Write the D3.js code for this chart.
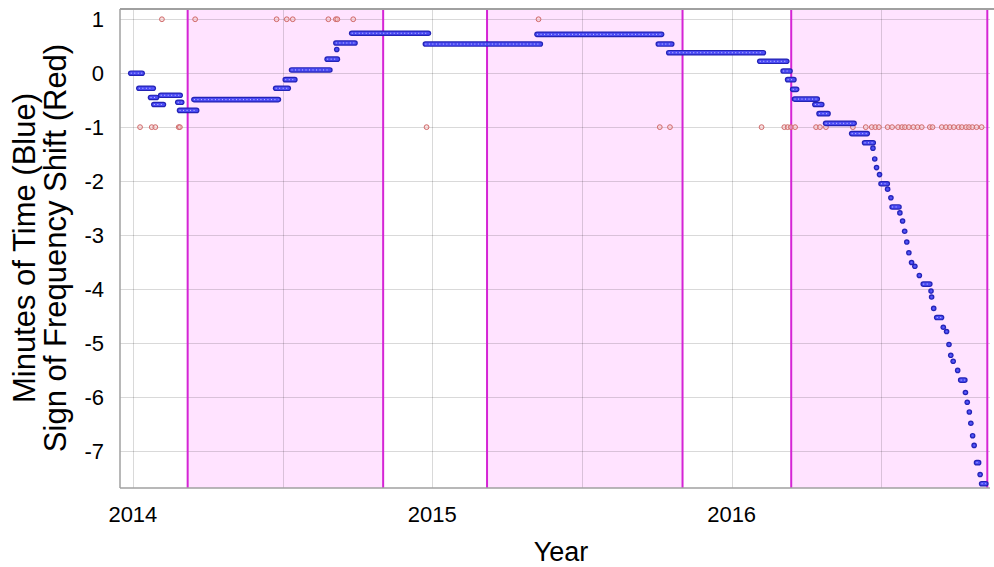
<!DOCTYPE html>
<html>
<head>
<meta charset="utf-8">
<title>Clock drift</title>
<script src="https://cdn.jsdelivr.net/npm/d3@7"></script>
<style>
  body { margin: 0; background: #fff; }
  text { font-family: "Liberation Sans", Arial, sans-serif; fill: #000; }
</style>
</head>
<body>
<svg width="994" height="567"></svg>
<script>
// shaded periods (year fractions)
const shadeStart = [2014.183, 2015.183, 2016.199]
const shadeEnd = [2014.836, 2015.836, 2016.854]

// blue series: runs of constant value [from, to, minutes]
const blueFrom = [2013.993, 2014.020, 2014.059, 2014.070, 2014.093, 2014.150, 2014.156, 2014.204, 2014.477, 2014.509,
  2014.530, 2014.649, 2014.681, 2014.678, 2014.731, 2014.977, 2015.350, 2015.755, 2015.790, 2016.094,
  2016.172, 2016.187, 2016.204, 2016.210, 2016.278, 2016.292, 2016.314, 2016.401, 2016.444, 2016.472,
  2016.478, 2016.484, 2016.494, 2016.499, 2016.521, 2016.532, 2016.536, 2016.562, 2016.571, 2016.578,
  2016.585, 2016.592, 2016.601, 2016.612, 2016.627, 2016.640, 2016.666, 2016.668, 2016.675, 2016.685,
  2016.707, 2016.718, 2016.726, 2016.732, 2016.740, 2016.755, 2016.765, 2016.781, 2016.787, 2016.794,
  2016.799, 2016.805, 2016.810, 2016.818, 2016.830, 2016.835]
const blueTo = [2014.031, 2014.068, 2014.079, 2014.102, 2014.158, 2014.163, 2014.213, 2014.486, 2014.519, 2014.541,
  2014.658, 2014.683, 2014.681, 2014.742, 2014.987, 2015.361, 2015.766, 2015.800, 2016.106, 2016.184,
  2016.195, 2016.208, 2016.217, 2016.286, 2016.301, 2016.322, 2016.409, 2016.453, 2016.473, 2016.472,
  2016.478, 2016.484, 2016.494, 2016.520, 2016.521, 2016.532, 2016.559, 2016.562, 2016.571, 2016.578,
  2016.585, 2016.592, 2016.601, 2016.612, 2016.627, 2016.662, 2016.666, 2016.668, 2016.675, 2016.701,
  2016.707, 2016.718, 2016.726, 2016.732, 2016.740, 2016.755, 2016.779, 2016.781, 2016.787, 2016.794,
  2016.799, 2016.805, 2016.810, 2016.825, 2016.830, 2016.849]
const blueValue = [0, -0.28, -0.45, -0.58, -0.41, -0.54, -0.69, -0.49, -0.28, -0.12,
  0.06, 0.26, 0.44, 0.56, 0.74, 0.54, 0.72, 0.54, 0.38, 0.22,
  0.04, -0.12, -0.30, -0.48, -0.58, -0.75, -0.93, -1.12, -1.29, -1.39,
  -1.59, -1.75, -1.88, -2.05, -2.15, -2.31, -2.48, -2.59, -2.74, -2.93,
  -3.13, -3.33, -3.51, -3.58, -3.75, -3.91, -4.04, -4.15, -4.36, -4.53,
  -4.71, -4.79, -5.03, -5.23, -5.34, -5.51, -5.69, -5.92, -6.10, -6.28,
  -6.49, -6.72, -6.90, -7.22, -7.44, -7.61]

// red series: sign of frequency shift
const redUp = [2014.097, 2014.208, 2014.480, 2014.514, 2014.534, 2014.653, 2014.678, 2014.683, 2014.736, 2015.355]
const redDown = [2014.024, 2014.063, 2014.075, 2014.153, 2014.157, 2014.981, 2015.760, 2015.794, 2016.100,
  2016.176, 2016.187, 2016.198, 2016.212, 2016.282, 2016.295, 2016.315, 2016.405, 2016.448, 2016.468,
  2016.480, 2016.492, 2016.521, 2016.536, 2016.556, 2016.569, 2016.579, 2016.592, 2016.607, 2016.621,
  2016.635, 2016.662, 2016.671, 2016.702, 2016.716, 2016.729, 2016.742, 2016.758, 2016.769, 2016.783,
  2016.793, 2016.804, 2016.818, 2016.835]

const xTicks = [2014, 2015, 2016]
const xGrid = [2014, 2014.5, 2015, 2015.5, 2016, 2016.5]
const yTicks = [1, 0, -1, -2, -3, -4, -5, -6, -7]

const svg = d3.select('svg')
const plotL = 120, plotR = 990, plotT = 9, plotB = 488

const x = d3.scaleLinear().domain([2013.957, 2016.863]).range([plotL, plotR])
const y = d3.scaleLinear().domain([-7.69, 1.19]).range([plotB, plotT])

// shaded bands
const bands = shadeStart.map((s, i) => ({ s, e: shadeEnd[i] }))
svg.append('g').selectAll('rect').data(bands).join('rect')
  .attr('x', d => x(d.s)).attr('width', d => x(d.e) - x(d.s))
  .attr('y', plotT).attr('height', plotB - plotT)
  .attr('fill', '#ffe3ff')

// grid
const grid = svg.append('g').attr('stroke', '#000').attr('stroke-opacity', 0.15).attr('stroke-width', 1)
grid.selectAll('.gx').data(xGrid).join('line')
  .attr('x1', d => Math.round(x(d)) + 0.5).attr('x2', d => Math.round(x(d)) + 0.5)
  .attr('y1', plotT).attr('y2', plotB)
grid.selectAll('.gy').data(yTicks).join('line')
  .attr('y1', d => Math.round(y(d)) + 0.5).attr('y2', d => Math.round(y(d)) + 0.5)
  .attr('x1', plotL).attr('x2', plotR)

// band edges
const edges = svg.append('g').attr('stroke', '#d524d5').attr('stroke-width', 2)
edges.selectAll('line').data(shadeStart.concat(shadeEnd)).join('line')
  .attr('x1', d => x(d)).attr('x2', d => x(d))
  .attr('y1', plotT).attr('y2', plotB)

// frame
const frame = svg.append('g').attr('stroke', '#a0a0a0').attr('fill', 'none')
frame.append('line').attr('x1', plotL).attr('x2', 994).attr('y1', plotT).attr('y2', plotT).attr('stroke-width', 2)
frame.append('line').attr('x1', plotL).attr('x2', plotL).attr('y1', plotT).attr('y2', plotB).attr('stroke-width', 1.5)
frame.append('line').attr('x1', plotL).attr('x2', plotR).attr('y1', plotB).attr('y2', plotB).attr('stroke-width', 1.5)

// red markers
const redData = redUp.map(t => ({ t, v: 1 })).concat(redDown.map(t => ({ t, v: -1 })))
svg.append('g').selectAll('circle').data(redData).join('circle')
  .attr('cx', d => x(d.t)).attr('cy', d => y(d.v)).attr('r', 2.4)
  .attr('fill', '#f6c8c8').attr('fill-opacity', 0.5)
  .attr('stroke', '#d06a6a').attr('stroke-width', 1)

// blue runs
const runs = blueFrom.map((f, i) => ({ f, t: blueTo[i], v: blueValue[i] }))
const blue = svg.append('g').attr('stroke-linecap', 'round')
blue.selectAll('.outer').data(runs).join('line').attr('class', 'outer')
  .attr('x1', d => x(d.f)).attr('x2', d => x(d.t))
  .attr('y1', d => y(d.v)).attr('y2', d => y(d.v))
  .attr('stroke', '#2323b4').attr('stroke-width', 5.6)
blue.selectAll('.inner').data(runs).join('line').attr('class', 'inner')
  .attr('x1', d => x(d.f)).attr('x2', d => x(d.t))
  .attr('y1', d => y(d.v)).attr('y2', d => y(d.v))
  .attr('stroke', '#4a4af4').attr('stroke-width', 3.2)
blue.selectAll('.core').data(runs).join('line').attr('class', 'core')
  .attr('x1', d => x(d.f)).attr('x2', d => x(d.t))
  .attr('y1', d => y(d.v)).attr('y2', d => y(d.v))
  .attr('stroke', '#c8c8ff').attr('stroke-width', 1)
  .attr('stroke-dasharray', '1,2.5').attr('stroke-linecap', 'butt')

// tick labels
svg.append('g').selectAll('text').data(yTicks).join('text')
  .attr('x', 104).attr('y', d => y(d)).attr('dy', '0.36em')
  .attr('text-anchor', 'end').attr('font-size', 22)
  .text(d => d)
svg.append('g').selectAll('text').data(xTicks).join('text')
  .attr('x', d => x(d)).attr('y', 522)
  .attr('text-anchor', 'middle').attr('font-size', 22)
  .text(d => d)

// axis titles
svg.append('text').attr('x', 561).attr('y', 561).attr('text-anchor', 'middle')
  .attr('font-size', 27).text('Year')
const yt = svg.append('text').attr('transform', 'translate(0,248) rotate(-90)')
  .attr('text-anchor', 'middle').attr('font-size', 31)
yt.append('tspan').attr('x', 0).attr('y', 35).text('Minutes of Time (Blue)')
yt.append('tspan').attr('x', 0).attr('y', 66).text('Sign of Frequency Shift (Red)')
</script>
</body>
</html>
